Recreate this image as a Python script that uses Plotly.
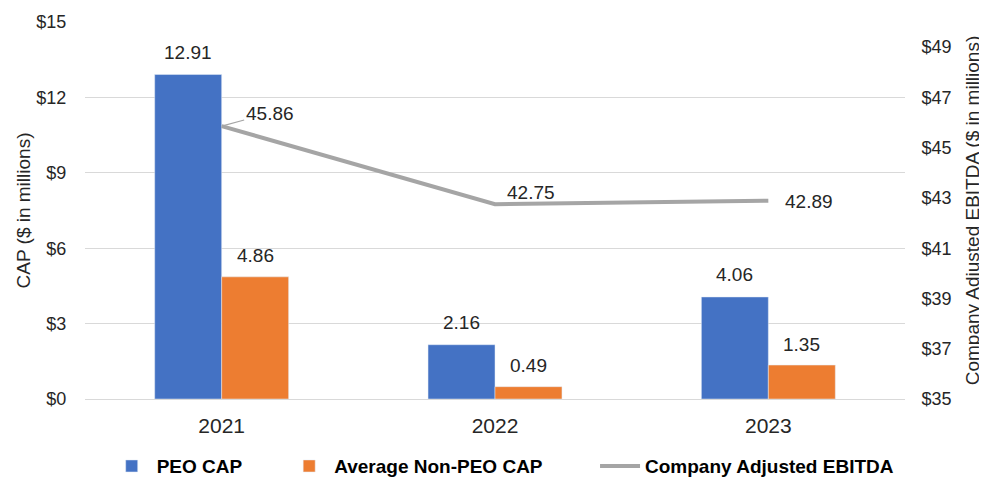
import plotly.graph_objects as go

years = ["2021", "2022", "2023"]
peo_cap = [12.91, 2.16, 4.06]
non_peo_cap = [4.86, 0.49, 1.35]
ebitda = [45.86, 42.75, 42.89]
left_ticks = [0, 3, 6, 9, 12, 15]
right_ticks = [35, 37, 39, 41, 43, 45, 47, 49]

FONT = "Liberation Sans, Arial, sans-serif"
TXT = "#262626"
LBL = 19
xpos = list(range(len(years)))

fig = go.Figure()
fig.add_trace(go.Bar(
    x=xpos, y=peo_cap, name="<b>PEO CAP</b>" + "&nbsp;" * 7, marker_color="#4472C4",
))
fig.add_trace(go.Bar(
    x=xpos, y=non_peo_cap, name="<b>Average Non-PEO CAP</b>" + "&nbsp;" * 9,
    marker_color="#ED7D31",
))
fig.add_trace(go.Scatter(
    x=xpos, y=ebitda, name="<b>Company Adjusted EBITDA</b>", mode="lines",
    line=dict(color="#A5A5A5", width=4), yaxis="y2",
))

# bar data labels (above each bar of the group)
for xp, a, b in zip(xpos, peo_cap, non_peo_cap):
    fig.add_annotation(x=xp, y=a, xref="x", yref="y", text=f"{a:.2f}", showarrow=False,
                       xshift=-33.5, yshift=22, font=dict(size=LBL, color=TXT, family=FONT))
    fig.add_annotation(x=xp, y=b, xref="x", yref="y", text=f"{b:.2f}", showarrow=False,
                       xshift=33.5, yshift=21, font=dict(size=LBL, color=TXT, family=FONT))

# line data labels
offsets = [(48, -13, True), (36, -12, False), (41, 1, False)]
for xp, v, (dx, dy, arrow) in zip(xpos, ebitda, offsets):
    if arrow:
        fig.add_annotation(x=xp, y=v, xref="x", yref="y2", text=f"{v:.2f}",
                           showarrow=True, arrowhead=0, arrowwidth=1.2, standoff=0,
                           arrowcolor="#A5A5A5", ax=dx, ay=dy,
                           font=dict(size=LBL, color=TXT, family=FONT))
    else:
        fig.add_annotation(x=xp, y=v, xref="x", yref="y2", text=f"{v:.2f}",
                           showarrow=False, xshift=dx, yshift=-dy,
                           font=dict(size=LBL, color=TXT, family=FONT))

fig.update_layout(
    width=979, height=489,
    margin=dict(l=77, r=82, t=14, b=80),
    paper_bgcolor="white", plot_bgcolor="white",
    font=dict(family=FONT, color=TXT, size=18),
    barmode="group", bargap=0.51, bargroupgap=0,
    showlegend=True,
    legend=dict(orientation="h", x=0.51, xanchor="center", y=-0.178, yanchor="middle",
                itemwidth=40,
                font=dict(size=19, color="#000000", family=FONT)),
    xaxis=dict(range=[-0.5, 2.5], tickvals=xpos, ticktext=years,
               showgrid=False, showline=False, zeroline=False, automargin=False,
               ticks="outside", ticklen=8, tickcolor="rgba(0,0,0,0)",
               tickfont=dict(size=21, color=TXT)),
    yaxis=dict(range=[0, 15], tickvals=left_ticks,
               ticktext=[f"${t}" for t in left_ticks], automargin=False,
               showgrid=True, gridcolor="#D9D9D9", gridwidth=1,
               zeroline=True, zerolinecolor="#D9D9D9", zerolinewidth=1,
               ticks="outside", ticklen=14, tickcolor="rgba(0,0,0,0)",
               tickfont=dict(size=18, color=TXT),
               title=dict(text="CAP ($ in millions)", font=dict(size=19, color=TXT), standoff=0)),
    yaxis2=dict(range=[35, 50], tickvals=right_ticks,
                ticktext=[f"${t}" for t in right_ticks], automargin=False,
                overlaying="y", side="right", showgrid=False, zeroline=False,
                ticks="outside", ticklen=12, tickcolor="rgba(0,0,0,0)",
                tickfont=dict(size=18, color=TXT),
                title=dict(text="Company Adjusted EBITDA ($ in millions)",
                           font=dict(size=19, color=TXT), standoff=15)),
)

fig.write_html("out.html")
